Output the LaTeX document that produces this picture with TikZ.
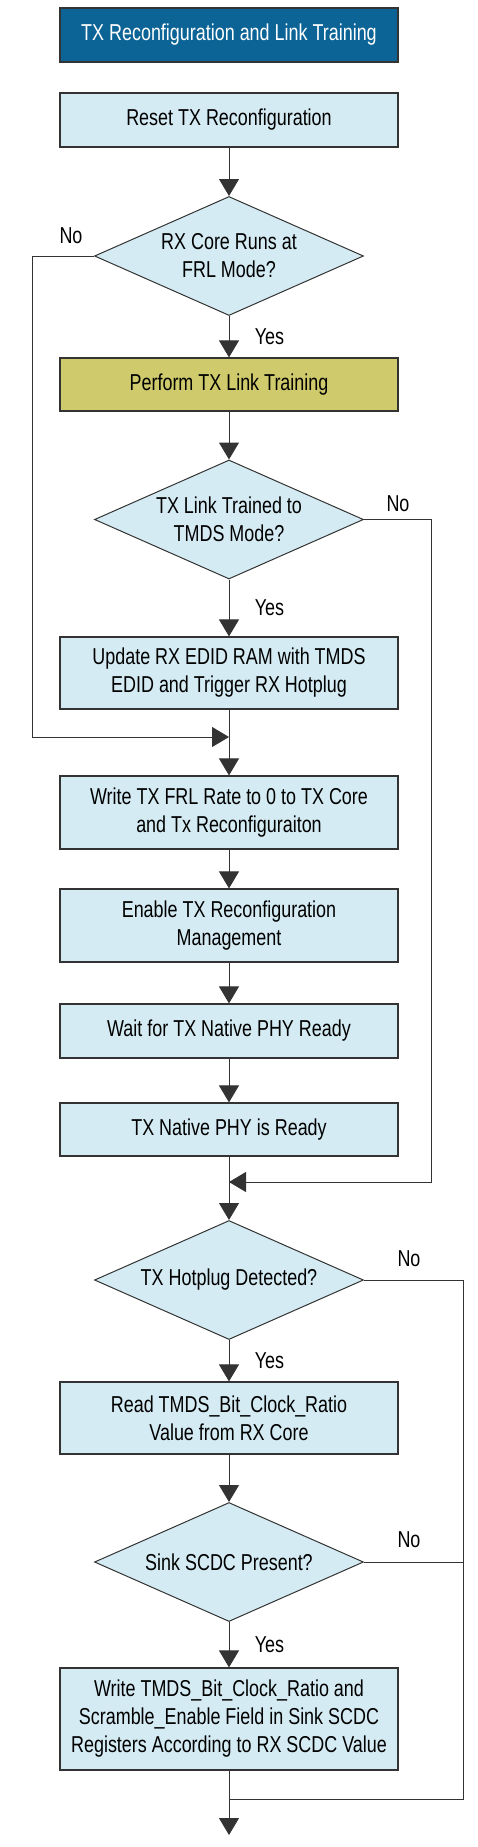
\documentclass[tikz,border=0pt]{standalone}
\usepackage{fontspec}
\setmainfont{Liberation Sans}[FakeStretch=0.78]
\usetikzlibrary{shapes.geometric,arrows.meta}
\definecolor{boxblue}{HTML}{D4EBF3}
\definecolor{titleblue}{HTML}{0B6396}
\definecolor{olive}{HTML}{CFCA6B}
\definecolor{edge}{HTML}{333333}
\begin{document}
\begin{tikzpicture}[x=1pt,y=-1pt,
    txt/.style={font=\fontsize{23}{28}\selectfont},
    stepbox/.style={txt, draw=edge, line width=1.2pt, fill=boxblue, align=center,
      minimum width=338pt, inner sep=0pt},
    decide/.style={txt, diamond, draw=edge, line width=1pt, fill=boxblue, align=center,
      aspect=2.26, minimum width=269pt, minimum height=119pt, inner sep=0pt},
    line/.style={draw=edge, line width=1pt},
    arr/.style={line, -{Triangle[width=20pt,length=17pt]}}]
    \useasboundingbox (0,0) rectangle (477,1847);

    \node [stepbox, fill=titleblue, text=white, minimum height=54pt] (title) at (229,35) {TX Reconfiguration and Link Training};
    \node [stepbox, minimum height=54pt] (reset) at (229,120) {Reset TX Reconfiguration};
    \node [decide] (frl) at (229,256) {RX Core Runs at\\FRL Mode?};
    \node [stepbox, fill=olive, minimum height=53pt] (train) at (229,384.5) {Perform TX Link Training};
    \node [decide] (tmds) at (229,519.5) {TX Link Trained to\\TMDS Mode?};
    \node [stepbox, minimum height=72pt] (update) at (229,673) {Update RX EDID RAM with TMDS\\EDID and Trigger RX Hotplug};
    \node [stepbox, minimum height=73pt] (write) at (229,812.5) {Write TX FRL Rate to 0 to TX Core\\and Tx Reconfiguraiton};
    \node [stepbox, minimum height=73pt] (enable) at (229,925.5) {Enable TX Reconfiguration\\Management};
    \node [stepbox, minimum height=54pt] (wait) at (229,1031) {Wait for TX Native PHY Ready};
    \node [stepbox, minimum height=53pt] (ready) at (229,1129.5) {TX Native PHY is Ready};
    \node [decide] (hot) at (229,1280) {TX Hotplug Detected?};
    \node [stepbox, minimum height=72pt] (read) at (229,1418) {Read TMDS\_Bit\_Clock\_Ratio\\Value from RX Core};
    \node [decide] (scdc) at (229,1562) {Sink SCDC Present?};
    \node [stepbox, minimum height=102pt] (wscdc) at (229,1719) {Write TMDS\_Bit\_Clock\_Ratio and\\Scramble\_Enable Field in Sink SCDC\\Registers According to RX SCDC Value};

    \coordinate (lrail) at (32,737);
    \coordinate (m1) at (229,737);
    \coordinate (rrail1) at (431,1182);
    \coordinate (m2) at (229,1182);
    \coordinate (rrail2) at (463,1799);
    \coordinate (m3) at (229,1799);
    \coordinate (exit) at (229,1835);

    \draw [arr] (reset) -- (frl);
    \draw [arr] (frl) -- (train) node [txt, midway, right=22pt] {Yes};
    \draw [arr] (frl.west) -| (lrail) -- (m1);
    \node [txt] at (71,236) {No};
    \draw [arr] (train) -- (tmds);
    \draw [arr] (tmds) -- (update) node [txt, midway, right=22pt] {Yes};
    \draw [arr] (tmds.east) -| (rrail1) -- (m2);
    \node [txt] at (398,504) {No};
    \draw [arr] (update) -- (write);
    \draw [arr] (write) -- (enable);
    \draw [arr] (enable) -- (wait);
    \draw [arr] (wait) -- (ready);
    \draw [arr] (ready) -- (hot);
    \draw [arr] (hot) -- (read) node [txt, midway, right=22pt] {Yes};
    \draw [line] (hot.east) -| (rrail2) -- (m3);
    \node [txt] at (409,1259) {No};
    \draw [arr] (read) -- (scdc);
    \draw [arr] (scdc) -- (wscdc) node [txt, midway, right=22pt] {Yes};
    \draw [line] (scdc.east) -- (scdc.east -| rrail2);
    \node [txt] at (409,1540) {No};
    \draw [arr] (wscdc) -- (exit);
  \end{tikzpicture}
\end{document}
